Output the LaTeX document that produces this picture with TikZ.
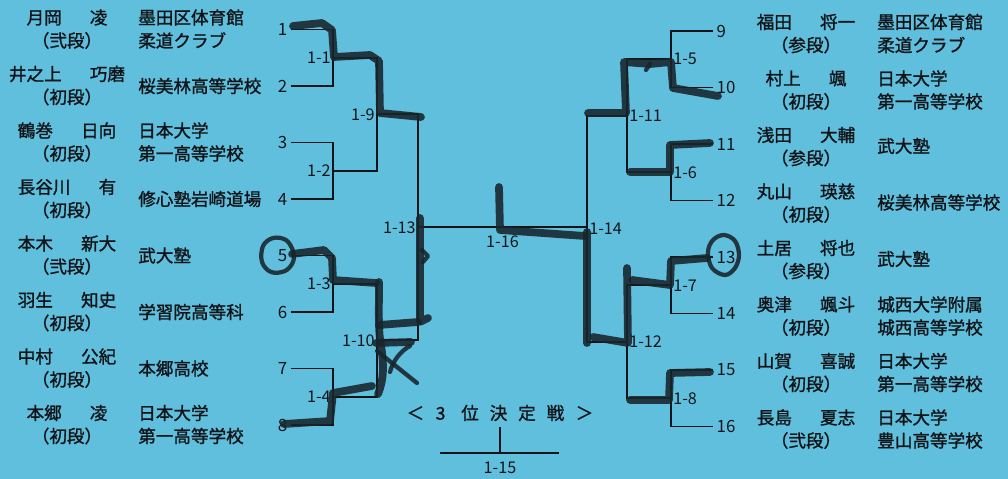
\documentclass[tikz,border=0pt]{standalone}
\usepackage{fontspec}
\setmainfont{Noto Sans CJK JP}
\newfontfamily\jpbold{Noto Sans CJK JP}[FakeBold=1.3]
\usetikzlibrary{calc}
\definecolor{kbg}{HTML}{60BFDD}
\definecolor{kink}{HTML}{111519}
\definecolor{kpen}{HTML}{18252C}
\tikzset{
  txt/.style={font=\fontsize{12.5}{14}\selectfont\jpbold, text=kink, inner sep=0pt},
  club/.style={txt, anchor=west},
  num/.style={font=\fontsize{12}{14}\selectfont, text=kink, inner sep=1pt},
  rd/.style={font=\fontsize{11.5}{13}\selectfont, text=kink, inner sep=1.5pt},
  ln/.style={draw=kink, line width=1.1pt},
  pen/.style={draw=kpen, line width=5.5pt, line cap=round, line join=round, opacity=0.88},
  loopy/.style={pen, line width=3pt},
}

\begin{document}
\begin{tikzpicture}[x=0.025cm, y=-0.025cm]
  \fill[kbg] (0,0) rectangle (1008,479);
  \useasboundingbox (0,0) rectangle (1008,479);

  % players, left half
  \foreach \i/\sur/\giv/\rk in {1/月岡/凌/弐段, 2/井之上/巧磨/初段, 3/鶴巻/日向/初段, 4/長谷川/有/初段,
      5/本木/新大/弐段, 6/羽生/知史/初段, 7/中村/公紀/初段, 8/本郷/凌/初段} {
    \pgfmathsetmacro\yy{29.5+56.5*(\i-1)}
    \node[txt] (nm\i) at (67,{\yy-12}) {\sur\hspace{1.6em}\giv};
    \node[txt] (rk\i) at (67,{\yy+11}) {（\rk）};
    \node[num, anchor=east] (n\i) at (289,\yy) {\i};
    \coordinate (p\i) at (291,\yy);
  }
  % players, right half
  \foreach \i/\sur/\giv/\rk in {9/福田/将一/参段, 10/村上/颯/初段, 11/浅田/大輔/参段, 12/丸山/瑛慈/初段,
      13/土居/将也/参段, 14/奥津/颯斗/初段, 15/山賀/喜誠/初段, 16/長島/夏志/弐段} {
    \pgfmathsetmacro\yy{31+56.5*(\i-9)}
    \node[txt] (nm\i) at (806,{\yy-9}) {\sur\hspace{1.6em}\giv};
    \node[txt] (rk\i) at (806,{\yy+14}) {（\rk）};
    \node[num, anchor=west] (n\i) at (715,\yy) {\i};
    \coordinate (p\i) at (713,\yy);
  }

  % clubs
  \foreach \i/\ca/\cb in {1/墨田区体育館/柔道クラブ, 3/日本大学/第一高等学校, 8/日本大学/第一高等学校} {
    \node[club] (ca\i) at (138,{29.5+56.5*(\i-1)-12}) {\ca};
    \node[club] (cb\i) at (138,{29.5+56.5*(\i-1)+11}) {\cb};
  }
  \foreach \i/\ca in {2/桜美林高等学校, 4/修心塾岩崎道場, 5/武大塾, 6/学習院高等科, 7/本郷高校}
    \node[club] (ca\i) at (138,{29.5+56.5*(\i-1)}) {\ca};
  \foreach \i/\ca/\cb in {9/墨田区体育館/柔道クラブ, 10/日本大学/第一高等学校, 14/城西大学附属/城西高等学校,
      15/日本大学/第一高等学校, 16/日本大学/豊山高等学校} {
    \node[club] (ca\i) at (877,{31+56.5*(\i-9)-9}) {\ca};
    \node[club] (cb\i) at (877,{31+56.5*(\i-9)+14}) {\cb};
  }
  \foreach \i/\ca in {11/武大塾, 12/桜美林高等学校, 13/武大塾}
    \node[club] (ca\i) at (877,{31+56.5*(\i-9)+2}) {\ca};

  % bracket, left
  \foreach \a/\b/\m in {1/2/1, 3/4/2, 5/6/3, 7/8/4} {
    \draw[ln] (p\a) -- ++(42,0) |- (p\b);
    \coordinate (m\m) at ($(p\a)!.5!(p\b)+(42,0)$);
  }
  \foreach \a/\b/\m/\d in {1/2/9/44, 3/4/10/44, 9/10/13/41} {
    \draw[ln] (m\a) -- ++(\d,0) |- (m\b);
    \coordinate (m\m) at ($(m\a)!.5!(m\b)+(\d,0)$);
  }
  % bracket, right
  \foreach \a/\b/\m in {9/10/5, 11/12/6, 13/14/7, 15/16/8} {
    \draw[ln] (p\a) -- ++(-42,0) |- (p\b);
    \coordinate (m\m) at ($(p\a)!.5!(p\b)+(-42,0)$);
  }
  \foreach \a/\b/\m/\d in {5/6/11/-44, 7/8/12/-44, 11/12/14/-40} {
    \draw[ln] (m\a) -- ++(\d,0) |- (m\b);
    \coordinate (m\m) at ($(m\a)!.5!(m\b)+(\d,0)$);
  }
  % final
  \coordinate (f14) at (m13 -| m14);
  \draw[ln] (m13) -- (f14);
  \node[rd] (r16) at ($(m13)!.5!(f14)+(0,14)$) {1-16};

  \foreach \m in {1,2,3,4,9,10,13} \node[rd, anchor=east] (r\m) at (m\m) {1-\m};
  \foreach \m in {5,6,7,8,11,12,14} \node[rd, anchor=west] (r\m) at (m\m) {1-\m};

  % third place
  \node[txt] (third) at (500,413)
    {＜\hspace{.65em}3\hspace{.9em}位\hspace{.62em}決\hspace{.62em}定\hspace{.62em}戦\hspace{.65em}＞};
  \coordinate (j15) at (500,453);
  \draw[ln] ([yshift=-4pt]third.south) -- (j15);
  \draw[ln] ([xshift=-43]j15) -- ([xshift=42]j15);
  \node[rd] (r15) at ($(j15)+(0,15)$) {1-15};

  % hand marks, left
  \draw[pen] (293,26) -- (322,23) -- (332,30) -- (334,57) -- (370,55) -- (379,61) -- (380,113) -- (421,117);
  \draw[loopy] plot[smooth cycle, tension=.6] coordinates
    {(293,251) (286,240) (273,238) (263,246) (262,262) (271,272) (285,271) (293,262)};
  \draw[pen] (292,254) -- (324,250) -- (332,258) -- (333,280) -- (376,283);
  \draw[pen] (379,282) .. controls (379,310) and (378,330) .. (381,345) .. controls (384,365) and (384,380) .. (378,394);
  \draw[pen] (284,424) -- (330,421) -- (333,393) -- (372,386);
  \draw[pen] (379,325) -- (418,322);
  \draw[pen] (376,343) -- (411,342);
  \draw[loopy] (377,351) -- (417,383);
  \draw[loopy] (390,372) .. controls (393,360) and (402,350) .. (410,346);
  \draw[pen] (420,218) -- (420,322) -- (428,318);
  \draw[loopy] (422,250) -- (428,256) -- (423,262);
  % hand marks, final and right
  \draw[pen] (499,187) -- (500,230) -- (585,236);
  \draw[pen] (718,96) -- (673,88) -- (671,62) -- (650,64) -- (624,62) -- (626,113) -- (588,113);
  \draw[loopy] (650,64) -- (646,70);
  \draw[pen] (710,143) -- (670,145) -- (670,172) -- (630,172);
  \draw[loopy] plot[smooth cycle, tension=.6] coordinates
    {(708,252) (713,240) (724,235) (735,241) (739,255) (735,268) (725,275) (712,268)};
  \draw[pen] (707,258) -- (671,261) -- (670,285) -- (632,280);
  \draw[pen] (627,268) -- (628,343) -- (593,337);
  \draw[pen] (587,232) -- (587,343);
  \draw[pen] (710,372) -- (670,373) -- (669,400) -- (630,400);
\end{tikzpicture}
\end{document}
